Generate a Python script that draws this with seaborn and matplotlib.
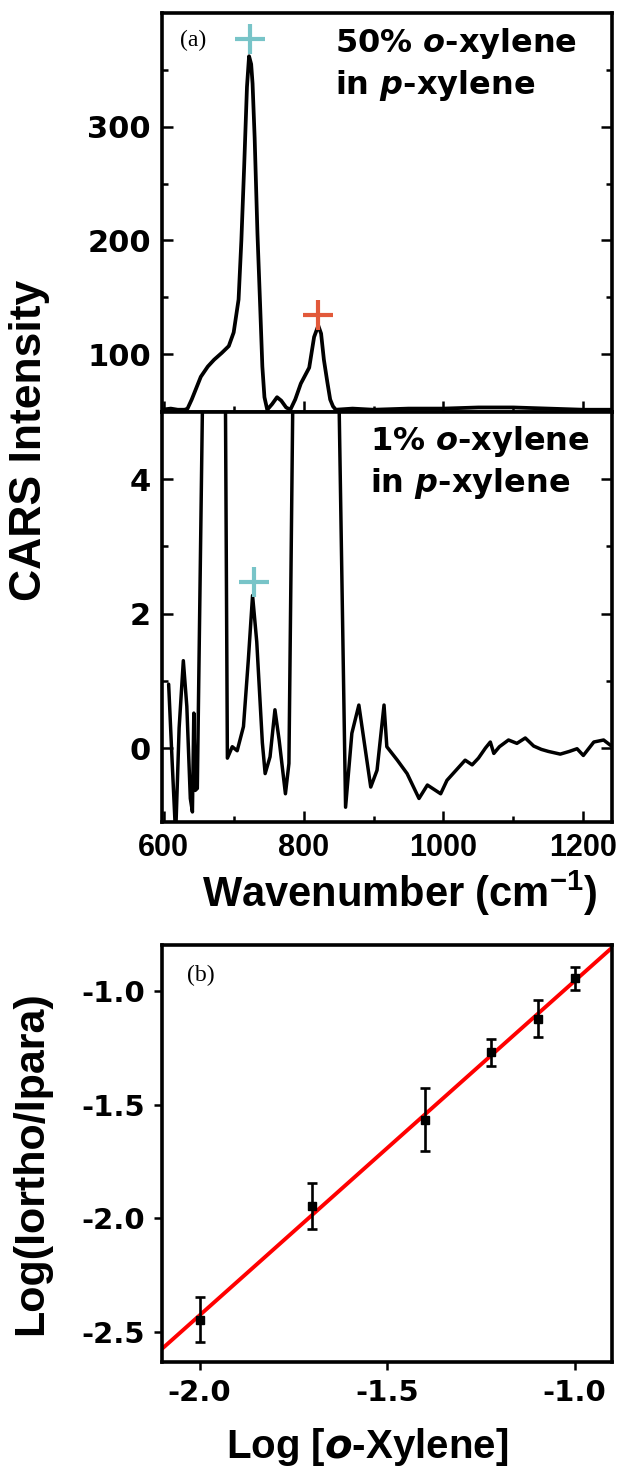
import numpy as np
import pandas as pd
import matplotlib
matplotlib.use("Agg")
import matplotlib.pyplot as plt
import seaborn as sns

# espectro 50% o-xileno (painel superior)
wn_50 = [597, 610, 620, 630, 634, 640, 653, 663, 672, 683, 693, 700, 707, 711, 715,
         719, 722, 725, 727, 730, 734, 738, 741, 744, 748, 755, 762, 768, 775, 781,
         788, 796, 802, 808, 815, 821, 825, 829, 834, 838, 842, 846, 870, 900, 950,
         1000, 1050, 1100, 1150, 1200, 1241]
int_50 = [51, 52, 51, 51, 52, 60, 80, 89, 95, 101, 107, 119, 148, 200, 265,
          335, 362, 355, 338, 290, 206, 140, 89, 62, 51, 56, 62, 59, 53, 51,
          60, 74, 81, 88, 115, 125, 118, 95, 75, 60, 54, 51, 52, 51, 52,
          52, 53, 53, 52, 51, 51]

# espectro 1% o-xileno (painel do meio)
wn_1 = [607, 612, 617, 622, 628, 633, 638, 641, 643, 645, 648, 656, 670, 688, 691,
        698, 705, 714, 721, 727, 733, 741, 745, 752, 759, 765, 774, 779, 785, 810,
        850, 860, 869, 879, 896, 905, 915, 919, 934, 948, 965, 977, 996, 1005, 1031,
        1041, 1050, 1060, 1067, 1072, 1080, 1093, 1105, 1117, 1129, 1140, 1150, 1167,
        1180, 1191, 1200, 1215, 1229, 1239]
int_1 = [0.95, -0.2, -1.3, 0.3, 1.30, 0.62, -0.75, -0.95, 0.52, -0.63, -0.6, 5.6, 8.0, 5.6, -0.15,
         0.02, -0.04, 0.32, 1.32, 2.27, 1.58, 0.08, -0.38, -0.13, 0.57, 0.12, -0.68, -0.23, 5.6, 8.0,
         5.6, -0.88, 0.22, 0.64, -0.58, -0.33, 0.64, 0.02, -0.18, -0.38, -0.75, -0.55, -0.68, -0.48, -0.18,
         -0.25, -0.15, 0.0, 0.09, -0.08, 0.02, 0.12, 0.07, 0.15, 0.03, -0.02, -0.05, -0.09,
         -0.05, -0.01, -0.11, 0.09, 0.12, 0.04]

# picos marcados
pico_orto_50 = (723, 377)
pico_para_50 = (821, 134)
pico_orto_1 = (728.6, 2.47)

# painel (b)
log_oxy = [-2.0, -1.699, -1.398, -1.222, -1.097, -1.0]
log_ratio = [-2.444, -1.945, -1.566, -1.271, -1.123, -0.946]
erro = [0.10, 0.10, 0.14, 0.06, 0.08, 0.05]

sns.set_style("ticks")
plt.rcParams["font.family"] = ["DejaVu Sans"]
plt.rcParams["axes.unicode_minus"] = False
plt.rcParams["mathtext.fontset"] = "custom"
plt.rcParams["mathtext.it"] = "DejaVu Sans:italic:bold"
plt.rcParams["mathtext.bf"] = "Liberation Sans:bold"
plt.rcParams["mathtext.rm"] = "DejaVu Sans:bold"
plt.rcParams.update({"text.color": "k", "axes.edgecolor": "k", "xtick.color": "k",
                     "ytick.color": "k", "axes.labelcolor": "k"})

fig = plt.figure(figsize=(6.21, 14.81), dpi=100)
ax1 = fig.add_axes([0.26087, 0.72181, 0.72464, 0.26941])
ax2 = fig.add_axes([0.26087, 0.44497, 0.72464, 0.27684])
ax3 = fig.add_axes([0.26087, 0.08035, 0.72464, 0.28157])

azul = "#78c4c8"
laranja = "#e2593a"
lw_spine = 2.6

df50 = pd.DataFrame({"wn": wn_50, "I": int_50})
df1 = pd.DataFrame({"wn": wn_1, "I": int_1})
sns.lineplot(data=df50, x="wn", y="I", ax=ax1, color="k", lw=2.7, estimator=None)
sns.lineplot(data=df1, x="wn", y="I", ax=ax2, color="k", lw=2.5, estimator=None)

ax1.plot(*pico_orto_50, marker="+", ms=22, mew=3, color=azul)
ax1.plot(*pico_para_50, marker="+", ms=22, mew=3, color=laranja)
ax2.plot(*pico_orto_1, marker="+", ms=22, mew=3, color=azul)

for ax in (ax1, ax2):
    ax.set_xlim(597.5, 1241)
    ax.set_xlabel("")
    ax.set_ylabel("")
    ax.set_xticks([700, 900, 1100], minor=True)
    ax.tick_params(axis="both", which="both", direction="in", right=True, top=False,
                   width=1.8, pad=8)
    ax.tick_params(which="major", length=8)
    ax.tick_params(which="minor", length=4)
    for s in ax.spines.values():
        s.set_linewidth(lw_spine)

ax1.set_ylim(49, 400)
ax1.set_yticks([100, 200, 300], ["100", "200", "300"], fontsize=22, fontweight="bold")
ax1.set_yticks([150, 250, 350], minor=True)
ax1.set_xticks([600, 800, 1000, 1200], [])

ax2.set_ylim(-1.1, 5.0)
ax2.set_yticks([0, 2, 4], ["0", "2", "4"], fontsize=22, fontweight="bold")
ax2.set_yticks([1, 3], minor=True)
ax2.set_xticks([600, 800, 1000, 1200], ["600", "800", "1000", "1200"],
               fontsize=22, fontweight="bold", family="Liberation Sans")

ax1.text(0.04, 0.93, "(a)", transform=ax1.transAxes, family="Liberation Serif",
         fontsize=17, va="center", ha="left")
ax1.text(0.384, 0.967, "50% $\\mathit{o}$-xylene\nin $\\mathit{p}$-xylene",
         transform=ax1.transAxes, ha="left", va="top", fontsize=23,
         fontweight="bold", linespacing=1.25)
ax2.text(0.462, 0.97, "1% $\\mathit{o}$-xylene\nin $\\mathit{p}$-xylene",
         transform=ax2.transAxes, ha="left", va="top", fontsize=23,
         fontweight="bold", linespacing=1.25)

# painel (b)
ax3.set_xlim(-2.1, -0.9)
ax3.set_ylim(-2.63, -0.80)
sns.regplot(x=log_oxy, y=log_ratio, ax=ax3, scatter=False, ci=None, truncate=False,
            color="red", line_kws={"lw": 2.8})
ax3.errorbar(log_oxy, log_ratio, yerr=erro, fmt="s", color="k", ms=6,
             capsize=3.5, elinewidth=1.9, capthick=1.9, zorder=4)
ax3.set_xlim(-2.1, -0.9)
ax3.set_ylim(-2.63, -0.80)
ax3.set_xticks([-2.0, -1.5, -1.0], ["-2.0", "-1.5", "-1.0"], fontsize=21, fontweight="bold")
ax3.set_yticks([-2.5, -2.0, -1.5, -1.0], ["-2.5", "-2.0", "-1.5", "-1.0"],
               fontsize=21, fontweight="bold")
ax3.tick_params(axis="both", direction="out", length=6, width=1.8, pad=6)
for s in ax3.spines.values():
    s.set_linewidth(lw_spine)
ax3.text(0.055, 0.928, "(b)", transform=ax3.transAxes, family="Liberation Serif",
         fontsize=17, va="center", ha="left")

# rotulos dos eixos
fig.text(30 / 621, 1 - 440 / 1481, "CARS Intensity", rotation=90, ha="center",
         va="center", fontsize=32, fontweight="bold", family="Liberation Sans")
fig.text(400 / 621, 1 - 893 / 1481, "Wavenumber (cm$^{\\mathbf{-1}}$)", ha="center",
         va="center", fontsize=30, fontweight="bold", family="Liberation Sans")
fig.text(31 / 621, 1 - 1163 / 1481, "Log(Iortho/Ipara)", rotation=90, ha="center",
         va="center", fontsize=31, fontweight="bold", family="Liberation Sans")
fig.text(367 / 621, 1 - 1447 / 1481, "Log [$\\mathit{o}$-Xylene]", ha="center",
         va="center", fontsize=29, fontweight="bold", family="Liberation Sans")

fig.savefig("out.png", dpi=100)
